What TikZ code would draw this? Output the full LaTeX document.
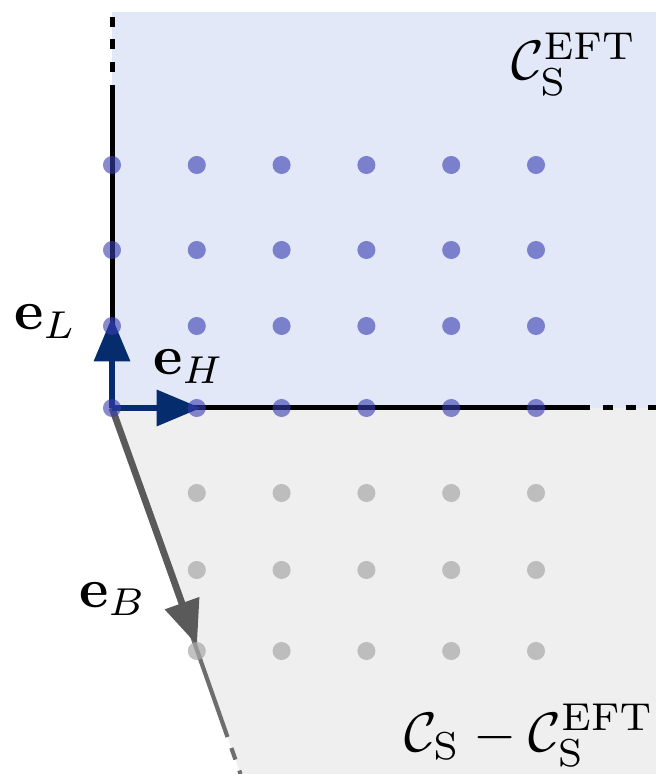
\documentclass[tikz,border=0pt]{standalone}
\usetikzlibrary{arrows.meta}
\definecolor{bluefill}{RGB}{227,232,248}
\definecolor{grayfill}{RGB}{239,239,239}
\definecolor{bluedot}{RGB}{55,60,175}
\definecolor{graydot}{RGB}{168,168,168}
\definecolor{navy}{RGB}{5,45,110}
\definecolor{arrgray}{RGB}{90,90,90}
\definecolor{bndgray}{RGB}{110,110,110}
\begin{document}
\begin{tikzpicture}[x=0.18pt,y=-0.18pt,
  bdot/.style={circle,fill=bluedot,fill opacity=0.6,draw=none,inner sep=0pt,minimum size=3.25pt},
  gdot/.style={circle,fill=graydot,fill opacity=0.7,draw=none,inner sep=0pt,minimum size=3.25pt},
  bnd/.style={line width=0.9pt,black},
  bnddash/.style={line width=0.9pt,black,dash pattern=on 1.8pt off 2.3pt,dash phase=1.8pt},
  gbnd/.style={line width=0.75pt,bndgray},
  gbnddash/.style={line width=0.75pt,bndgray,dash pattern=on 2.2pt off 2.1pt,dash phase=2.2pt},
  vec/.style={line width=1.2pt,-{Triangle[length=8pt,width=6.3pt]}},
  lbl/.style={anchor=base west,inner sep=0pt}]
\useasboundingbox (0,0) rectangle (656,774);
% regions
\coordinate (O) at (112,408);
\fill[bluefill] (112,12) rectangle (656,408);
\fill[grayfill] (O) -- (656,408) -- (656,774) -- (240.5,774) -- cycle;
% boundaries
\coordinate (vtop) at (112,85);
\coordinate (vend) at (112,14);
\coordinate (hend) at (590,408);
\coordinate (hfar) at (660,408);
\coordinate (gend) at (227.5,737);
\coordinate (gfar) at (240.5,774);
\draw[bnd] (O) -- (vtop);
\draw[bnddash] (vtop) -- (vend);
\draw[bnd] (O) -- (hend);
\draw[bnddash] (hend) -- (hfar);
\draw[gbnd] (O) -- (gend);
\draw[gbnddash] (gend) -- (gfar);
% basis vectors
\coordinate (tL) at (112,317);
\coordinate (tH) at (201,408);
\coordinate (tB) at (197,645);
\draw[vec,arrgray] (O) -- (tB);
\draw[vec,navy] (O) -- (tL);
\draw[vec,navy] (O) -- (tH);
% lattice points
\foreach \y [count=\j] in {165,250,326,408}
  \foreach \x [count=\i] in {112,196.8,281.6,366.4,451.2,536}
    \node[bdot] (b-\i-\j) at (\x,\y) {};
\foreach \y [count=\j] in {493,570,651}
  \foreach \x [count=\i] in {196.8,281.6,366.4,451.2,536}
    \node[gdot] (g-\i-\j) at (\x,\y) {};
% labels
\node[lbl] (lL) at (13,330) {$\mathbf{e}_L$};
\node[lbl] (lH) at (152,375) {$\mathbf{e}_H$};
\node[lbl] (lB) at (78,607) {$\mathbf{e}_B$};
\node[lbl] (ceft) at (510,80) {$\mathcal{C}_{\mathrm{S}}^{\mathrm{EFT}}$};
\node[lbl] (crest) at (403,751) {$\mathcal{C}_{\mathrm{S}}-\mathcal{C}_{\mathrm{S}}^{\mathrm{EFT}}$};
\end{tikzpicture}
\end{document}
